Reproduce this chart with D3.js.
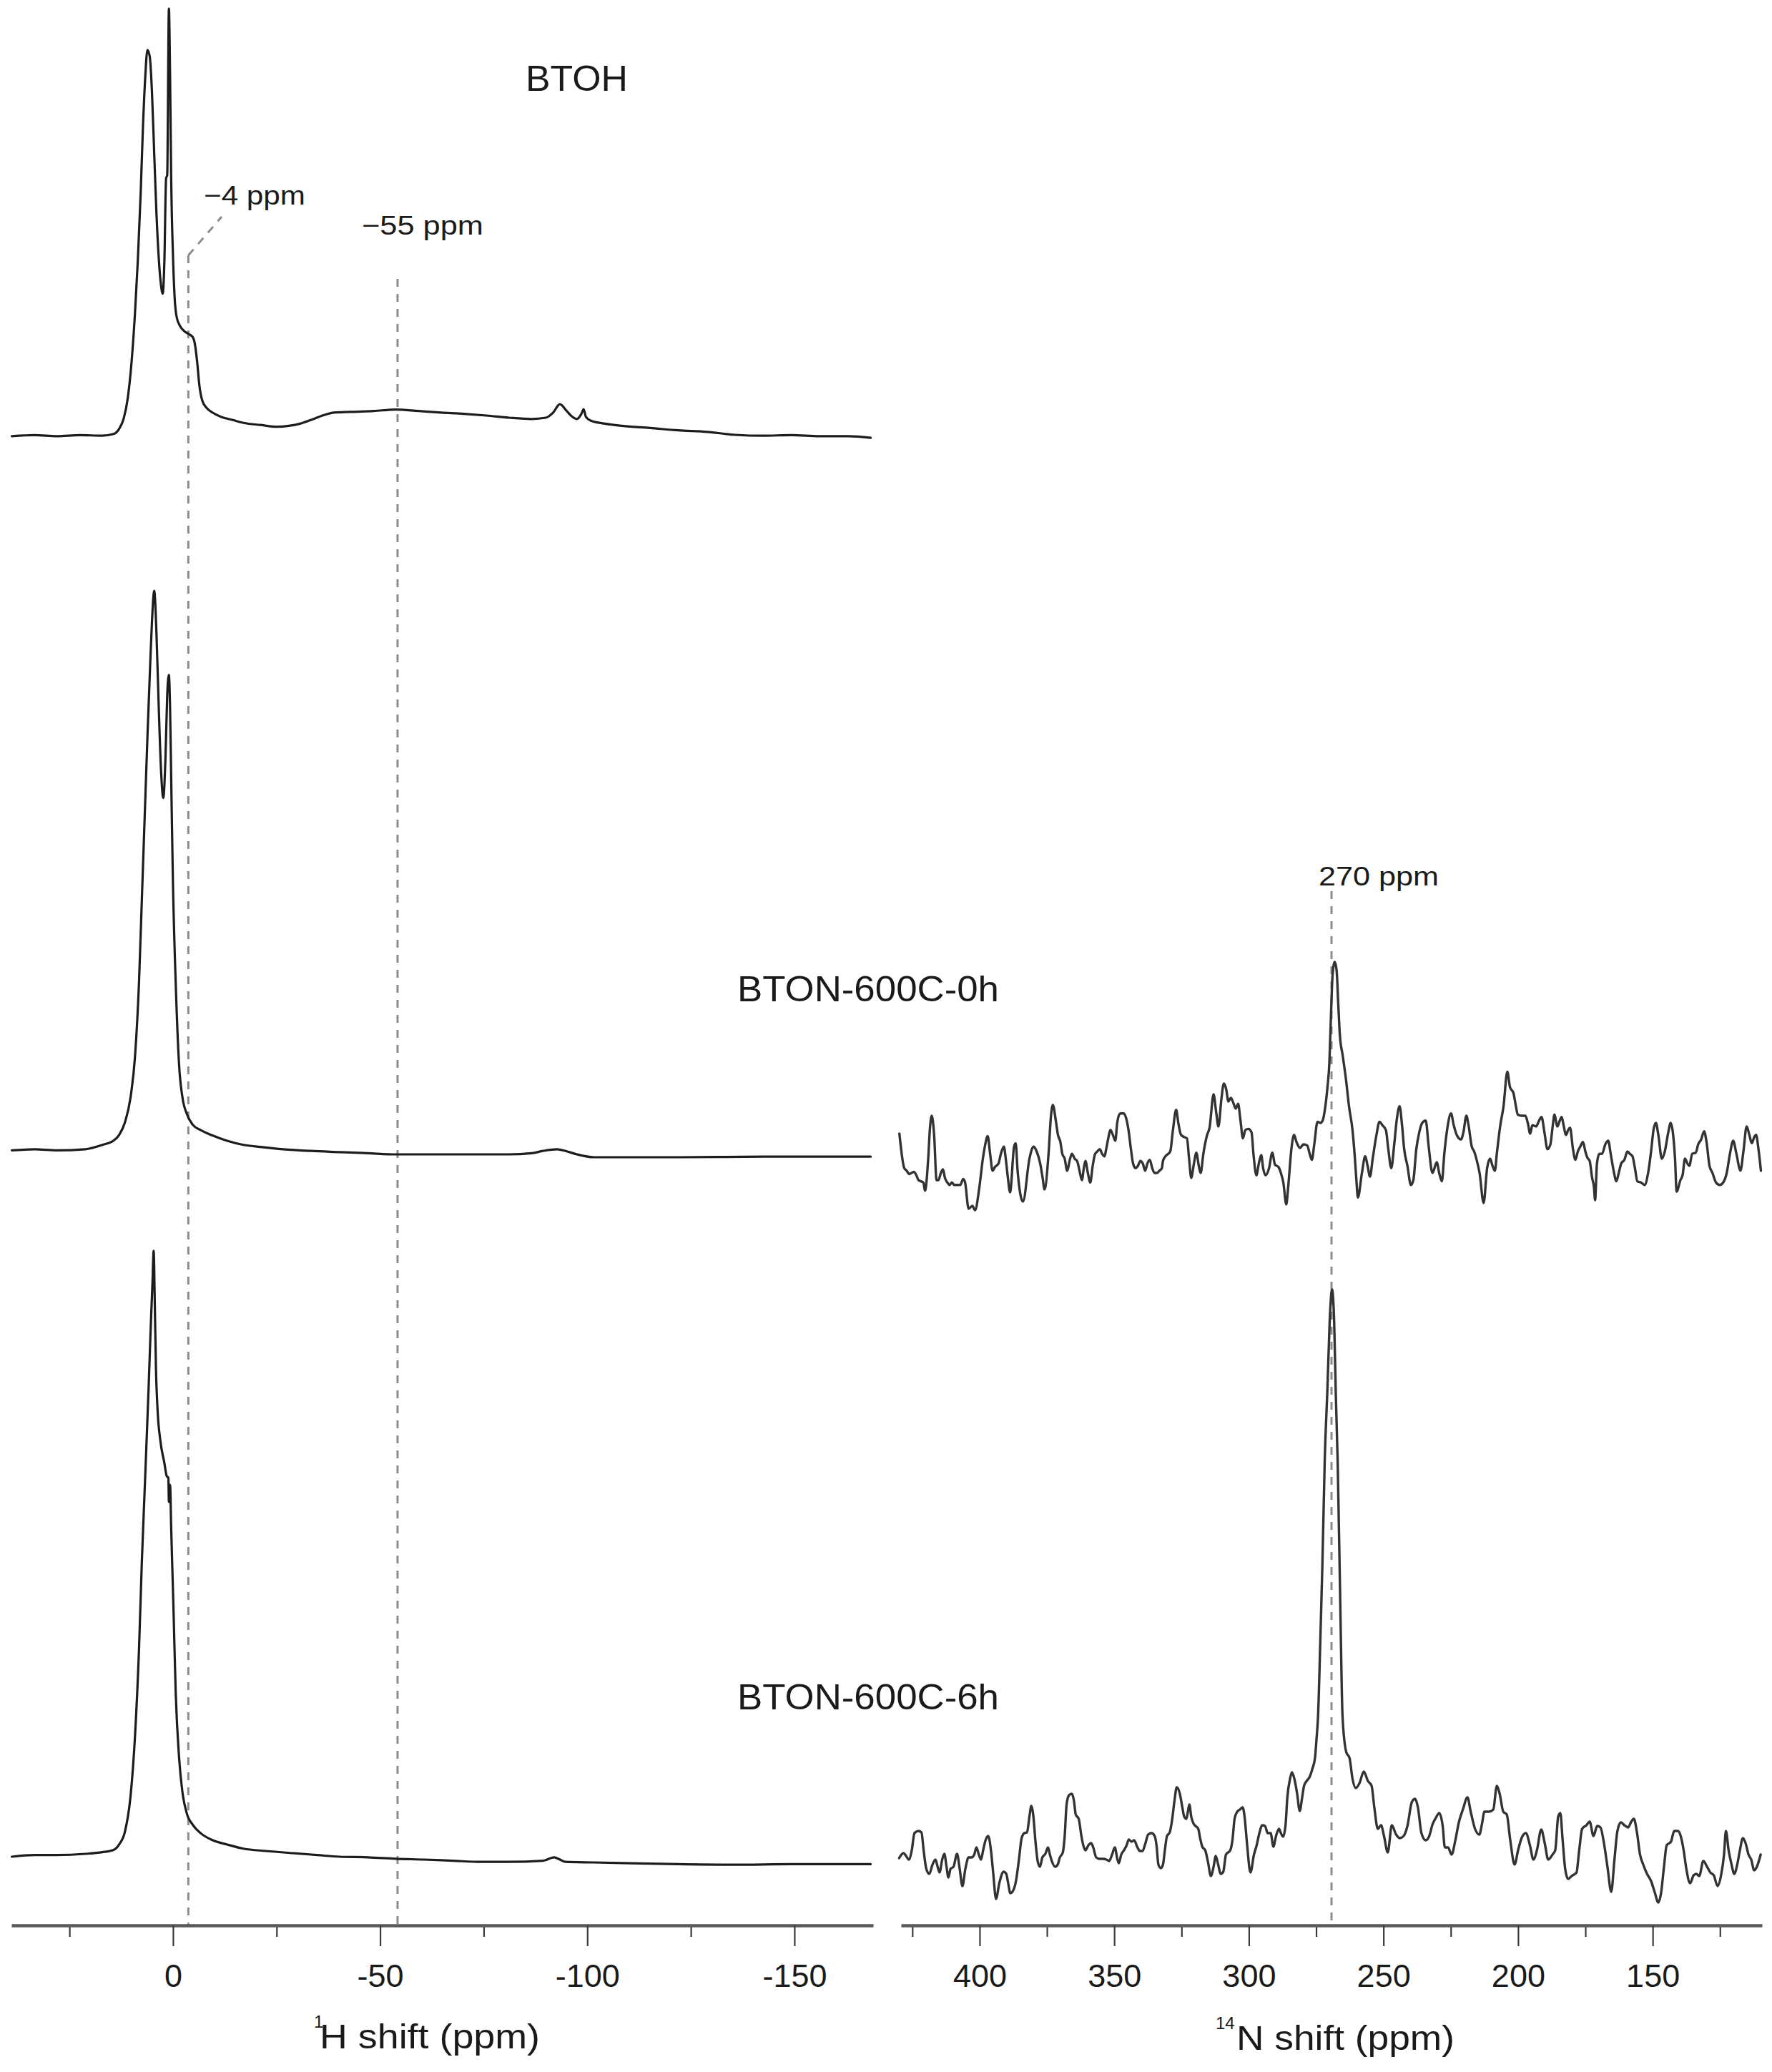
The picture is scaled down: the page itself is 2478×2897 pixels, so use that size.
<!DOCTYPE html>
<html><head><meta charset="utf-8">
<script src="https://cdn.jsdelivr.net/npm/d3@7"></script>
<style>
body{margin:0;background:#fff}
svg{display:block}
text{font-family:"Liberation Sans",Arial,Helvetica,sans-serif;fill:#1a1a1a}
</style>
</head><body>
<svg id="chart" width="2478" height="2897"></svg>
<script>
// ---------------- DATA ----------------
const sampleNames = ["BTOH", "BTON-600C-0h", "BTON-600C-6h"];
const hTicksMajor = [0, -50, -100, -150];
const hTicksMinor = [25, -25, -75, -125];
const nTicksMajor = [400, 350, 300, 250, 200, 150];
const nTicksMinor = [425, 375, 325, 275, 225, 175, 125];
const hDomain = [39, -169];
const nDomain = [429.2, 109.4];
const hMarkerPpm = [-3.7, -54.2];
const hMarkerLabels = ["\u22124 ppm", "\u221255 ppm"];
const nMarkerPpm = 269.3;
const nMarkerLabel = "270 ppm";
const hAxisTitle = ["1", "H shift (ppm)"];
const nAxisTitle = ["14", "N shift (ppm)"];

// 1H spectra: [ppm, intensity (a.u.)]
const hBTOH = [[38.9,1.7],[33.4,1.95],[28.0,1.7],[22.5,1.95],[17.1,1.8],[14.35,2.2],[13.0,3.4],[11.9,5.8],[10.9,10.7],[10.0,19.0],[9.2,30.0],[8.5,42.5],[7.8,58.4],[7.26,73.6],[6.7,85.4],[6.17,91.7],[5.62,90.2],[5.08,81.9],[4.53,67.4],[3.99,53.5],[3.44,43.2],[2.9,36.9],[2.49,34.9],[2.08,42.5],[1.67,61.8],[1.4,62.5],[0.99,101.3],[0.71,86.0],[0.44,61.8],[0.03,44.5],[-0.38,34.2],[-0.92,29.3],[-1.74,27.3],[-2.70,26.2],[-3.79,25.5],[-4.74,24.8],[-5.29,23.1],[-5.83,19.0],[-6.38,13.4],[-7.06,10.0],[-8.15,8.25],[-9.52,7.2],[-11.56,6.2],[-14.29,5.5],[-17.02,4.8],[-21.11,4.3],[-25.2,3.9],[-27.93,4.1],[-30.66,4.6],[-33.38,5.5],[-36.11,6.5],[-38.84,7.2],[-42.93,7.35],[-48.39,7.55],[-53.84,7.9],[-59.3,7.55],[-64.75,7.2],[-70.21,6.9],[-75.66,6.5],[-81.12,6.0],[-86.57,5.7],[-89.98,6.0],[-91.76,7.2],[-93.39,9.15],[-95.03,7.55],[-96.39,6.2],[-97.48,5.7],[-98.58,6.9],[-99.12,8.0],[-99.67,6.2],[-100.9,5.3],[-104.3,4.6],[-108.4,4.1],[-115.2,3.6],[-122.0,3.05],[-128.9,2.7],[-135.7,2.0],[-142.5,1.8],[-149.3,1.95],[-156.1,1.7],[-163.0,1.7],[-168.4,1.3]];

const hBTON0 = [[38.9,2.7],[33.45,2.9],[28.0,2.7],[21.2,2.9],[17.08,3.65],[14.35,4.4],[13.0,5.4],[11.6,7.6],[10.26,11.9],[9.17,19.1],[8.21,32.0],[7.53,46.35],[6.85,60.7],[6.17,75.0],[5.49,88.0],[5.08,95.1],[4.53,100.5],[3.99,93.0],[3.44,80.1],[2.9,69.3],[2.35,64.3],[1.81,71.5],[1.4,82.2],[0.99,85.8],[0.71,80.1],[0.44,67.9],[0.03,50.0],[-0.65,32.0],[-1.47,17.6],[-2.29,11.9],[-3.38,9.0],[-4.74,7.2],[-6.79,6.2],[-9.52,5.3],[-12.93,4.4],[-17.02,3.65],[-21.11,3.3],[-26.57,2.9],[-33.38,2.6],[-40.2,2.4],[-47.02,2.2],[-53.84,2.0],[-67.5,2.0],[-81.1,2.0],[-86.57,2.2],[-89.3,2.6],[-92.7,2.9],[-94.76,2.6],[-97.5,2.0],[-101.6,1.5],[-122.0,1.5],[-142.5,1.6],[-168.4,1.6]];

const hBTON6 = [[38.9,3.0],[33.45,3.3],[28.0,3.3],[21.2,3.5],[17.08,3.8],[14.35,4.2],[13.0,5.15],[11.6,7.4],[10.26,13.5],[9.17,24.1],[8.21,39.2],[7.53,54.4],[6.71,69.5],[5.9,84.7],[5.35,96.1],[4.94,103.6],[4.67,108.9],[4.4,99.85],[4.12,88.5],[3.71,80.9],[3.03,75.6],[2.08,71.8],[1.53,69.55],[1.12,69.2],[0.99,65.0],[0.71,68.0],[0.44,60.45],[-0.1,46.8],[-0.65,31.7],[-1.47,20.3],[-2.29,14.2],[-3.38,10.45],[-4.74,8.6],[-6.79,7.05],[-9.52,5.9],[-12.93,5.15],[-17.02,4.4],[-22.47,4.0],[-29.29,3.6],[-34.75,3.3],[-40.2,3.0],[-47.0,2.9],[-53.8,2.65],[-60.66,2.5],[-67.5,2.3],[-74.3,2.1],[-81.1,2.1],[-89.3,2.3],[-92.0,2.9],[-93.4,2.5],[-94.76,2.1],[-101.6,2.0],[-108.4,1.9],[-122.0,1.7],[-135.7,1.6],[-149.3,1.7],[-168.4,1.7]];

// 14N spectra: [ppm, intensity (a.u.)]
const nBTON0 = [[429.8,28.75],[428.0,16.7],[427.1,15.8],[426.2,14.6],[425.3,15.0],[424.4,15.4],[423.5,14.2],[422.7,12.5],[421.8,12.1],[420.9,11.7],[420.3,8.8],[419.1,20.0],[418.5,30.0],[417.8,35.0],[416.9,28.3],[416.0,12.5],[415.3,12.5],[414.4,15.0],[413.6,16.25],[412.9,13.3],[412.0,11.7],[411.2,10.8],[410.3,11.7],[409.4,10.8],[408.0,10.8],[407.2,10.8],[406.1,12.9],[405.4,11.7],[404.1,2.5],[402.7,3.5],[401.7,2.0],[400.1,10.0],[398.8,20.0],[397.9,25.0],[397.0,27.9],[396.1,21.7],[395.2,15.8],[394.3,17.1],[393.0,18.3],[392.1,21.7],[391.0,24.2],[390.3,20.0],[389.5,13.3],[388.7,8.25],[387.2,24.2],[386.6,25.4],[385.9,15.8],[383.9,5.0],[381.5,20.0],[380.6,23.3],[379.9,24.2],[378.8,22.5],[377.5,18.3],[376.6,13.3],[375.9,9.25],[374.4,21.7],[373.5,35.0],[372.8,38.75],[371.7,33.3],[370.9,28.3],[370.0,25.8],[369.3,21.7],[368.4,20.0],[367.5,15.8],[366.4,20.0],[365.7,21.7],[364.7,20.0],[363.8,19.2],[362.9,15.8],[362.0,12.5],[361.3,16.7],[360.7,19.2],[359.8,15.0],[358.9,11.7],[358.0,17.5],[357.1,21.7],[356.3,22.5],[355.4,23.3],[354.5,21.7],[353.6,20.8],[353.0,23.3],[352.3,26.7],[351.4,30.0],[350.5,28.3],[349.6,26.25],[348.9,32.5],[347.8,35.8],[346.5,35.8],[345.6,34.2],[344.7,30.0],[343.8,23.3],[343.0,18.3],[342.1,16.7],[341.2,17.5],[340.3,19.2],[339.4,18.3],[338.5,15.8],[337.7,18.3],[336.8,19.6],[335.9,16.7],[335.0,15.0],[334.1,15.0],[333.2,15.8],[332.3,16.7],[331.9,19.2],[331.0,20.8],[329.2,22.5],[328.2,30.0],[327.0,37.1],[326.2,32.5],[325.2,28.3],[323.9,27.5],[323.0,27.1],[322.2,20.0],[321.4,13.3],[320.4,18.3],[319.5,22.1],[318.6,17.5],[317.9,15.0],[316.9,21.7],[315.5,28.3],[314.6,30.8],[313.1,42.5],[312.2,36.7],[311.3,31.25],[310.2,40.8],[309.3,46.25],[308.4,44.2],[307.6,40.0],[306.7,41.25],[305.8,39.6],[304.9,37.5],[304.0,39.2],[303.1,33.3],[302.2,27.1],[301.3,30.0],[300.2,30.4],[299.0,29.2],[298.3,21.7],[297.2,14.2],[296.3,18.3],[295.4,21.25],[294.7,16.7],[293.8,14.2],[292.5,16.7],[291.3,22.1],[290.3,17.9],[289.0,17.1],[288.1,15.0],[287.2,11.7],[286.1,4.0],[285.4,10.0],[284.1,24.2],[283.2,28.3],[282.3,25.8],[281.0,23.75],[279.7,25.0],[278.3,24.6],[277.4,21.7],[276.6,19.6],[275.7,25.0],[274.5,32.9],[273.4,32.5],[272.6,33.3],[271.7,37.5],[270.8,45.0],[270.1,53.3],[269.5,70.0],[268.9,84.2],[268.1,88.75],[267.4,85.8],[266.8,74.2],[266.2,63.3],[265.1,55.8],[263.9,47.5],[262.8,38.3],[261.5,30.0],[260.6,20.0],[260.0,11.7],[259.5,6.4],[258.0,15.0],[256.8,20.8],[255.9,17.5],[255.0,13.75],[254.0,20.0],[252.6,28.3],[251.5,32.9],[250.4,31.7],[249.1,30.0],[248.2,23.3],[247.1,16.7],[246.0,25.0],[245.1,33.3],[244.0,38.3],[243.1,31.7],[242.3,23.3],[241.1,17.5],[239.8,10.8],[238.9,12.5],[237.8,23.3],[236.7,29.2],[235.6,32.5],[234.3,33.3],[233.2,24.2],[231.8,15.0],[230.2,18.75],[229.3,15.0],[228.3,12.1],[227.4,21.7],[226.1,31.7],[224.9,35.8],[223.9,31.7],[222.8,28.3],[221.2,26.7],[220.3,29.2],[219.2,35.0],[218.4,31.7],[217.2,24.2],[216.3,22.5],[215.5,20.0],[214.3,15.0],[212.8,4.5],[211.5,16.7],[210.4,20.0],[209.5,17.5],[208.6,15.8],[207.9,21.7],[206.6,31.7],[205.4,38.3],[204.0,50.4],[203.0,45.0],[201.7,42.9],[200.8,38.3],[200.1,35.4],[198.6,35.0],[197.3,35.0],[196.4,32.5],[195.5,28.75],[194.7,31.7],[193.3,31.25],[192.2,33.3],[191.3,34.6],[190.2,29.2],[189.1,23.3],[188.0,25.0],[187.1,31.7],[186.5,35.4],[185.4,31.25],[184.5,33.3],[183.8,34.6],[183.1,31.7],[182.2,28.3],[181.4,30.0],[180.7,30.8],[179.6,23.3],[178.7,19.6],[177.8,22.5],[176.9,24.2],[175.9,25.8],[175.0,22.5],[174.3,20.4],[173.4,19.2],[172.5,13.3],[171.8,10.0],[171.4,5.5],[170.7,18.3],[169.8,21.7],[168.8,21.7],[167.6,25.0],[166.5,26.25],[165.6,21.7],[164.5,15.8],[163.5,12.1],[162.6,15.0],[161.7,18.3],[160.5,19.6],[159.4,22.5],[158.5,21.7],[157.5,20.8],[156.6,16.7],[155.7,12.1],[154.4,11.7],[153.0,10.8],[151.7,15.0],[150.6,22.5],[149.7,30.0],[148.8,32.5],[147.9,28.3],[146.6,20.0],[145.5,22.5],[144.2,29.2],[143.3,32.5],[142.4,28.3],[141.7,20.0],[141.1,8.5],[139.7,12.5],[138.9,14.2],[138.0,20.0],[137.1,18.3],[136.4,17.5],[135.3,21.7],[134.0,22.1],[133.1,25.0],[132.0,26.7],[130.9,29.6],[130.0,25.8],[128.9,17.5],[127.8,15.0],[126.5,11.7],[125.1,10.8],[123.8,11.7],[122.5,15.0],[121.3,21.7],[120.1,26.25],[118.9,21.7],[117.4,15.8],[116.3,22.5],[115.1,31.25],[114.1,28.3],[113.2,25.4],[112.3,27.5],[111.6,28.3],[110.7,23.3],[109.8,15.8]];

const nBTON6 = [[429.9,10.2],[428.3,10.9],[427.3,10.5],[426.3,10.0],[425.2,11.3],[424.2,13.7],[422.7,14.0],[421.6,13.8],[420.8,11.3],[419.8,8.7],[418.7,8.0],[417.5,9.3],[416.4,10.0],[415.6,9.0],[414.9,8.2],[413.9,10.0],[413.1,10.8],[412.3,9.0],[411.6,7.5],[410.8,8.7],[409.7,9.0],[408.4,10.8],[407.4,8.7],[406.4,6.3],[405.3,8.7],[404.1,10.3],[403.0,10.3],[402.0,10.7],[401.2,11.7],[400.3,10.7],[399.5,10.0],[398.7,11.3],[397.8,12.7],[396.8,13.3],[395.8,11.3],[395.0,8.3],[393.9,4.5],[392.7,6.7],[391.1,8.3],[390.1,8.0],[389.4,6.7],[388.6,5.3],[387.5,5.7],[386.5,7.0],[385.4,10.0],[384.4,13.0],[383.4,13.7],[382.4,13.8],[381.5,16.0],[380.8,17.5],[380.1,16.3],[379.3,12.7],[378.4,9.7],[377.6,9.0],[376.7,10.3],[375.6,10.8],[374.6,11.7],[373.9,10.7],[373.1,9.7],[372.0,9.0],[371.0,9.3],[370.2,10.3],[369.1,11.0],[368.4,13.3],[367.7,17.7],[366.8,19.0],[365.8,19.2],[365.0,18.3],[364.3,16.3],[363.2,15.7],[362.2,13.3],[361.5,12.0],[360.7,11.3],[359.6,12.0],[358.6,12.3],[357.8,11.7],[356.7,10.3],[355.5,10.1],[354.2,10.1],[352.9,10.0],[351.9,9.8],[350.8,10.7],[349.8,11.7],[348.8,10.0],[348.3,9.5],[347.4,10.7],[346.4,11.3],[345.4,12.0],[344.6,12.8],[343.6,12.5],[342.6,12.7],[341.5,11.8],[340.5,11.2],[339.5,11.2],[338.4,12.3],[337.4,13.5],[336.1,13.7],[335.0,13.3],[334.3,12.0],[333.6,9.3],[332.7,8.8],[331.9,9.3],[331.2,11.3],[330.4,13.3],[329.4,13.8],[328.6,15.3],[327.6,18.3],[326.8,20.1],[325.7,19.3],[324.7,17.3],[324.0,16.0],[323.2,15.7],[322.6,16.8],[322.1,17.7],[321.4,16.0],[320.5,15.0],[319.8,14.7],[318.8,14.3],[318.1,13.0],[317.3,11.8],[316.2,11.3],[315.2,9.7],[314.1,7.7],[313.1,9.0],[312.3,10.5],[311.4,9.3],[310.5,8.0],[309.5,8.3],[308.5,10.7],[306.9,11.3],[306.1,12.7],[305.3,15.7],[304.3,16.7],[303.3,17.0],[302.3,17.3],[301.5,15.7],[300.7,12.3],[299.4,8.2],[298.1,10.7],[297.1,12.0],[296.1,13.7],[295.0,14.8],[294.0,14.7],[293.0,13.7],[291.9,13.7],[290.9,11.8],[289.9,13.3],[288.8,14.3],[288.1,13.7],[287.3,13.2],[286.4,14.7],[285.7,18.7],[284.7,21.3],[284.0,22.2],[283.1,21.3],[282.1,19.3],[281.1,16.8],[280.2,18.7],[279.5,20.3],[278.5,21.0],[277.5,21.5],[276.4,22.7],[275.4,24.3],[274.9,26.7],[274.3,30.0],[273.5,40.0],[272.7,51.0],[271.8,66.0],[270.8,76.0],[270.0,85.0],[269.1,89.7],[268.3,85.0],[267.7,75.0],[267.0,65.5],[266.1,47.0],[265.2,30.0],[263.8,25.0],[262.6,24.2],[261.5,21.3],[260.3,20.0],[258.9,20.7],[257.3,22.3],[255.8,21.0],[254.4,20.3],[253.4,17.3],[252.1,14.3],[250.9,14.8],[249.8,13.3],[248.4,11.0],[246.9,14.8],[245.3,13.5],[243.9,13.0],[242.5,13.3],[241.1,14.7],[239.5,18.0],[238.3,18.5],[237.2,17.3],[235.9,13.7],[234.3,12.7],[233.1,13.2],[231.7,15.0],[230.6,15.8],[229.3,16.5],[228.0,14.7],[227.2,11.7],[226.0,11.7],[224.7,10.7],[223.3,12.7],[222.0,15.2],[220.5,17.0],[218.8,18.7],[217.6,16.7],[216.0,14.3],[214.4,13.5],[213.4,15.0],[212.5,16.7],[210.8,16.7],[209.2,17.0],[207.9,20.3],[206.9,19.3],[205.5,16.7],[204.2,16.3],[202.9,12.7],[201.3,9.3],[200.0,11.3],[198.7,13.0],[197.1,13.7],[195.6,12.0],[194.3,10.0],[193.0,11.3],[191.4,14.2],[190.1,12.3],[188.8,10.0],[187.2,10.7],[186.2,11.3],[185.1,16.0],[184.3,16.5],[183.5,13.0],[182.5,8.7],[181.4,7.3],[180.1,7.7],[178.3,8.2],[177.3,11.3],[176.2,14.3],[174.6,14.8],[173.4,15.3],[172.0,13.3],[170.6,14.7],[169.4,14.5],[168.1,12.3],[166.8,9.0],[165.4,5.5],[164.2,10.0],[163.1,14.0],[161.8,15.2],[160.5,14.8],[159.1,14.5],[158.1,15.2],[157.0,15.7],[155.8,13.7],[154.7,10.7],[153.5,9.3],[152.1,8.0],[150.6,7.0],[149.3,5.5],[147.9,4.0],[146.9,5.3],[145.8,9.0],[144.8,12.0],[143.2,12.5],[142.0,14.0],[140.6,14.0],[139.6,13.3],[138.5,11.3],[137.5,8.7],[136.1,6.7],[134.8,7.8],[133.8,8.0],[132.7,7.7],[131.2,9.8],[129.8,9.0],[128.6,8.2],[127.3,7.8],[125.9,6.3],[124.6,7.8],[123.5,10.7],[122.8,14.0],[121.8,11.3],[120.7,9.3],[119.7,8.0],[118.6,9.3],[117.6,11.3],[116.5,13.0],[115.5,12.3],[114.4,10.7],[113.4,10.0],[112.3,8.5],[111.3,9.0],[109.9,10.7]];

// ---------------- LAYOUT ----------------
const svg = d3.select("#chart");
const axisY = 2692;
const xH = d3.scaleLinear().domain(hDomain).range([16, 1221]);
const xN = d3.scaleLinear().domain(nDomain).range([1260, 2464]);
const yHBTOH = d3.scaleLinear().domain([0, 100]).range([620, 20]);
const yHBTON0 = d3.scaleLinear().domain([0, 100]).range([1630, 830]);
const yHBTON6 = d3.scaleLinear().domain([0, 100]).range([2620, 1820]);
const yNBTON0 = d3.scaleLinear().domain([0, 100]).range([1700, 1300]);
const yNBTON6 = d3.scaleLinear().domain([0, 100]).range([2700, 1700]);

// dashed reference lines (behind spectra)
const dashG = svg.append("g").attr("fill", "none").attr("stroke", "#8c8c8c")
  .attr("stroke-width", 3).attr("stroke-dasharray", "11,10");
dashG.append("line").attr("x1", xH(hMarkerPpm[0])).attr("x2", xH(hMarkerPpm[0]))
  .attr("y1", 357).attr("y2", axisY);
dashG.append("line").attr("x1", xH(hMarkerPpm[0])).attr("y1", 357)
  .attr("x2", 310).attr("y2", 303);
dashG.append("line").attr("x1", xH(hMarkerPpm[1])).attr("x2", xH(hMarkerPpm[1]))
  .attr("y1", 390).attr("y2", axisY);
dashG.append("line").attr("x1", xN(nMarkerPpm)).attr("x2", xN(nMarkerPpm))
  .attr("y1", 1246).attr("y2", axisY);

// spectra
function drawSpectrum(data, xs, ys, width, color) {
  const line = d3.line().x(d => xs(d[0])).y(d => ys(d[1])).curve(d3.curveMonotoneX);
  svg.append("path").datum(data).attr("d", line).attr("fill", "none")
    .attr("stroke", color).attr("stroke-width", width)
    .attr("stroke-linejoin", "round").attr("stroke-linecap", "round");
}
drawSpectrum(hBTOH, xH, yHBTOH, 3.2, "#1c1c1c");
drawSpectrum(hBTON0, xH, yHBTON0, 3.2, "#1c1c1c");
drawSpectrum(hBTON6, xH, yHBTON6, 3.2, "#1c1c1c");
drawSpectrum(nBTON0, xN, yNBTON0, 3.4, "#333");
drawSpectrum(nBTON6, xN, yNBTON6, 3.4, "#333");

// axes
function drawAxis(xs, major, minor) {
  const g = svg.append("g").attr("transform", `translate(0,${axisY})`);
  const gMin = g.append("g").call(d3.axisBottom(xs).tickValues(minor).tickSize(16).tickSizeOuter(0).tickFormat(""));
  gMin.select(".domain").remove();
  const gMaj = g.append("g").call(d3.axisBottom(xs).tickValues(major).tickSize(29).tickSizeOuter(0).tickFormat(d => String(d)));
  g.selectAll(".tick line").attr("stroke", "#3a3a3a").attr("stroke-width", 2.2);
  gMaj.select(".domain").attr("stroke", "#5a5a5a").attr("stroke-width", 4.5);
  gMaj.selectAll(".tick text").attr("y", 86).attr("dy", 0)
    .attr("font-size", 45).attr("fill", "#1a1a1a")
    .style("font-family", '"Liberation Sans", Arial, sans-serif');
}
drawAxis(xH, hTicksMajor, hTicksMinor);
drawAxis(xN, nTicksMajor, nTicksMinor);

// axis titles
function axisTitle(parts, supX, mainX, mainLen, baseY) {
  svg.append("text").attr("x", supX).attr("y", baseY - 29).attr("font-size", 24).text(parts[0]);
  svg.append("text").attr("x", mainX).attr("y", baseY).attr("font-size", 48)
    .attr("textLength", mainLen).attr("lengthAdjust", "spacingAndGlyphs").text(parts[1]);
}
axisTitle(hAxisTitle, 439, 447, 308, 2864);
axisTitle(nAxisTitle, 1700, 1729, 305, 2866);

// sample labels
svg.append("text").attr("x", 735).attr("y", 127).attr("font-size", 50)
  .attr("textLength", 143).attr("lengthAdjust", "spacingAndGlyphs").text(sampleNames[0]);
svg.append("text").attr("x", 1031).attr("y", 1400).attr("font-size", 50)
  .attr("textLength", 366).attr("lengthAdjust", "spacingAndGlyphs").text(sampleNames[1]);
svg.append("text").attr("x", 1031).attr("y", 2390).attr("font-size", 50)
  .attr("textLength", 366).attr("lengthAdjust", "spacingAndGlyphs").text(sampleNames[2]);

// peak annotations
svg.append("text").attr("x", 285).attr("y", 286).attr("font-size", 37)
  .attr("textLength", 142).attr("lengthAdjust", "spacingAndGlyphs").text(hMarkerLabels[0]);
svg.append("text").attr("x", 506).attr("y", 328).attr("font-size", 37)
  .attr("textLength", 170).attr("lengthAdjust", "spacingAndGlyphs").text(hMarkerLabels[1]);
svg.append("text").attr("x", 1844).attr("y", 1238).attr("font-size", 37)
  .attr("textLength", 168).attr("lengthAdjust", "spacingAndGlyphs").text(nMarkerLabel);
</script>
</body></html>
